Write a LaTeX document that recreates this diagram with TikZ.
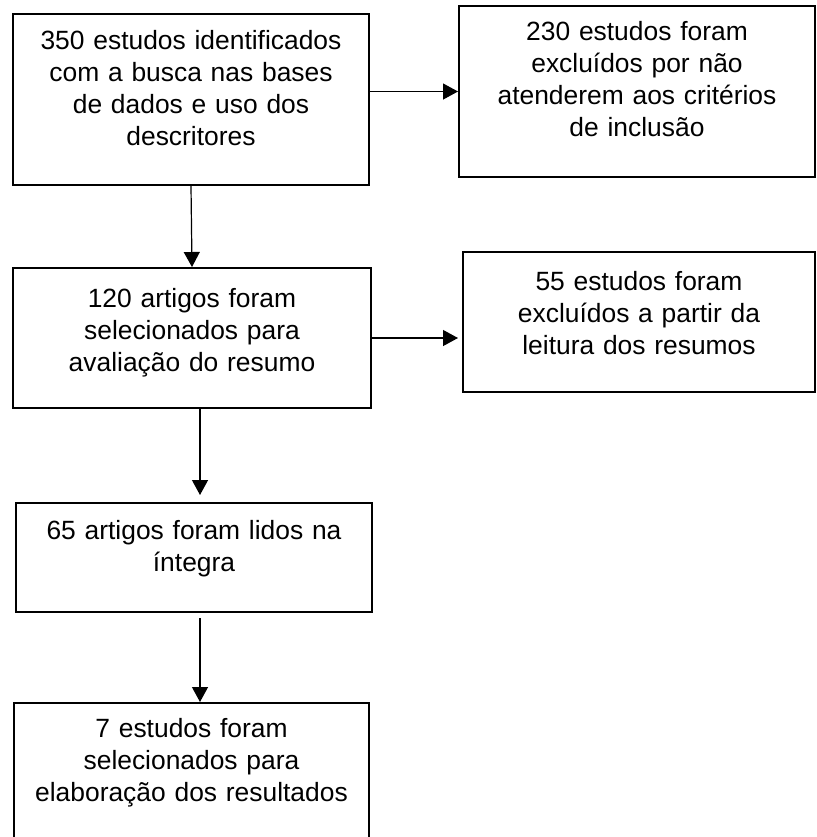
\documentclass[tikz,border=0pt]{standalone}
\usepackage{fontspec}
\setmainfont{Liberation Sans}
\usepackage{tikz}
\usetikzlibrary{
  arrows.meta,
  positioning,
  calc,
}
\tikzset{
  fluxbox/.style={draw, line width=1pt, inner sep=0pt},
  fluxtext/.style={font=\fontsize{13.2}{16}\selectfont, text width=170pt,
    align=center, anchor=base, inner sep=0pt},
  fluxarrow/.style={-{Triangle[length=7.5pt, width=8pt]}, line width=0.6pt},
}

\begin{document}
\begin{tikzpicture}[x=0.5pt, y=-0.5pt]
  \useasboundingbox (0,0) rectangle (816,837);
  \node[fluxbox, minimum width=178pt, minimum height=85.5pt] (busca) at (191,99.5) {};
  \node[fluxtext] (buscatxt) at ($(busca.north)+(0,-18pt)$)
    {350 estudos identificados\\com a busca nas bases\\de dados e uso dos\\descritores};
  \node[fluxbox, minimum width=178pt, minimum height=85.5pt] (excl1) at (637,91.5) {};
  \node[fluxtext] (excl1txt) at ($(excl1.north)+(0,-17.5pt)$)
    {230 estudos foram\\excluídos por não\\atenderem aos critérios\\de inclusão};
  \node[fluxbox, minimum width=179pt, minimum height=70pt] (selec) at (192,338) {};
  \node[fluxtext] (selectxt) at ($(selec.north)+(0,-20pt)$)
    {120 artigos foram\\selecionados para\\avaliação do resumo};
  \node[fluxbox, minimum width=176pt, minimum height=70pt] (excl2) at (639,322) {};
  \node[fluxtext] (excl2txt) at ($(excl2.north)+(0,-19.5pt)$)
    {55 estudos foram\\excluídos a partir da\\leitura dos resumos};
  \node[fluxbox, minimum width=178pt, minimum height=54.5pt] (lidos) at (194,557.5) {};
  \node[fluxtext] (lidostxt) at ($(lidos.north)+(0,-18.5pt)$)
    {65 artigos foram lidos na\\íntegra};
  \node[fluxbox, minimum width=177.5pt, minimum height=85.5pt] (final) at (191.5,788.5) {};
  \node[fluxtext] (finaltxt) at ($(final.north)+(0,-17.5pt)$)
    {7 estudos foram\\selecionados para\\elaboração dos resultados};
  \draw[fluxarrow] (busca.east |- excl1.west) -- (excl1.west);
  \draw[fluxarrow] (busca.south) -- (selec.north);
  \draw[fluxarrow] (selec.east) -- ($(excl2.west |- selec.east)+(-2pt,0)$);
  \draw[fluxarrow] ($(selec.south)+(4pt,0)$) -- ($(lidos.north)+(3pt,3.5pt)$);
  \draw[fluxarrow] ($(lidos.south)+(3pt,-2.5pt)$) -- ($(final.north)+(4.25pt,0)$);
\end{tikzpicture}
\end{document}
